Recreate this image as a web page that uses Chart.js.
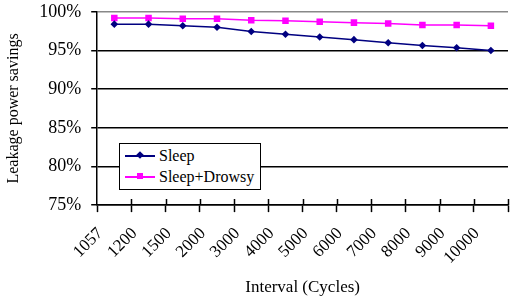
<!DOCTYPE html>
<html>
<head>
<meta charset="utf-8">
<script src="https://cdn.jsdelivr.net/npm/chart.js@4/dist/chart.umd.min.js"></script>
<style>
  html, body { margin: 0; padding: 0; background: #fff; overflow: hidden; }
  #wrap { position: relative; width: 517px; height: 304px; overflow: hidden; }
  #myChart { position: absolute; left: 0; top: -9px; }
  #legend {
    position: absolute; left: 119px; top: 143px; width: 140px; height: 45px;
    background: #fff; border: 1.5px solid #000;
    font-family: "Liberation Serif", serif; font-size: 16px; color: #000;
  }
  .item { position: absolute; left: 5px; height: 20px; }
  .item .ln { position: absolute; left: 0; top: 9px; width: 30px; height: 1.5px; }
  .item .mk { position: absolute; left: 12px; top: 6px; width: 6px; height: 6px; }
  .item span { position: absolute; left: 34px; top: 0; white-space: nowrap; line-height: 20px; }
</style>
</head>
<body>
<div id="wrap">
  <canvas id="myChart" width="517" height="313"></canvas>
  <div id="legend"></div>
</div>
<script>
'use strict'

//data
const intervals = ['1057', '1200', '1500', '2000', '3000', '4000', '5000', '6000', '7000', '8000', '9000', '10000'];
const sleepSavings = [98.4, 98.4, 98.2, 98.0, 97.45, 97.1, 96.75, 96.4, 96.0, 95.65, 95.35, 95.0];
const drowsySavings = [99.2, 99.2, 99.1, 99.1, 98.9, 98.85, 98.7, 98.6, 98.5, 98.3, 98.3, 98.2];
const seriesNames = ['Sleep', 'Sleep+Drowsy'];
const seriesColors = ['#000080', '#ff00ff'];
const yMin = 75;
const yMax = 100;
const yStep = 5;

const serif = 'Liberation Serif';

//legend in html, sits inside the plot
const legendBox = document.getElementById('legend');
for (let i = 0; i < seriesNames.length; i++) {
  let item = document.createElement('div');
  item.className = 'item';
  item.style.top = (2 + i * 21) + 'px';
  let ln = document.createElement('div');
  ln.className = 'ln';
  ln.style.background = seriesColors[i];
  let mk = document.createElement('div');
  mk.className = 'mk';
  mk.style.background = seriesColors[i];
  if (i === 0) {
    mk.style.transform = 'rotate(45deg) scale(0.9)';
  }
  let txt = document.createElement('span');
  txt.textContent = seriesNames[i];
  item.appendChild(ln);
  item.appendChild(mk);
  item.appendChild(txt);
  legendBox.appendChild(item);
}

// small tick marks poking up into the plot from the x axis
const innerTicks = {
  id: 'innerTicks',
  afterDatasetsDraw(chart) {
    const x = chart.scales.x;
    const ctx = chart.ctx;
    const step = x.width / intervals.length;
    ctx.save();
    ctx.strokeStyle = '#000';
    ctx.lineWidth = 1.5;
    ctx.beginPath();
    for (let i = 1; i <= intervals.length; i++) {
      let px = Math.round(x.left + i * step) + 0.5;
      ctx.moveTo(px, x.top);
      ctx.lineTo(px, x.top - 6);
    }
    ctx.stroke();
    ctx.restore();
  }
};

const data = {
  labels: intervals,
  datasets: [{
    label: seriesNames[0],
    data: sleepSavings,
    borderColor: seriesColors[0],
    backgroundColor: seriesColors[0],
    borderWidth: 1.5,
    pointStyle: 'rectRot',
    pointRadius: 3.8,
    pointBorderWidth: 0,
    tension: 0
  },
  {
    label: seriesNames[1],
    data: drowsySavings,
    borderColor: seriesColors[1],
    backgroundColor: seriesColors[1],
    borderWidth: 1.5,
    pointStyle: 'rect',
    pointRadius: 4.6,
    pointBorderWidth: 0,
    tension: 0
  }]
};

const config = {
  type: 'line',
  data: data,
  options: {
    responsive: false,
    animation: false,
    layout: {
      padding: { left: 4, right: 0, top: -4, bottom: 6 }
    },
    plugins: {
      legend: { display: false },
      tooltip: { enabled: false }
    },
    scales: {
      x: {
        offset: true,
        afterFit: function(scale) { scale.height -= 8; },
        grid: {
          offset: true,
          drawOnChartArea: false,
          drawTicks: true,
          tickLength: 7,
          tickWidth: 1.5,
          tickColor: '#000'
        },
        border: { color: '#000', width: 1.5 },
        ticks: {
          autoSkip: false,
          maxRotation: 45,
          minRotation: 45,
          labelOffset: -14,
          padding: 11.5,
          color: '#000',
          font: { family: serif, size: 17 }
        },
        title: {
          display: true,
          text: 'Interval (Cycles)',
          color: '#000',
          font: { family: serif, size: 17 },
          padding: { top: 6, bottom: 0 }
        }
      },
      y: {
        min: yMin,
        max: yMax,
        grid: {
          color: function(c) { return c.tick && c.tick.value === yMax ? '#888' : '#000'; },
          lineWidth: 1.5,
          tickLength: 6,
          tickColor: '#000',
          tickWidth: 1.5
        },
        border: { color: '#000', width: 1.5 },
        ticks: {
          stepSize: yStep,
          padding: 10,
          color: '#000',
          font: { family: serif, size: 18 },
          callback: function(v) { return v + '%'; }
        },
        title: {
          display: true,
          text: 'Leakage power savings',
          color: '#000',
          font: { family: serif, size: 16 },
          padding: { top: 0, bottom: 6 }
        }
      }
    }
  },
  plugins: [innerTicks]
};

let canvasChart = document.getElementById('myChart');
const myChart = new Chart(canvasChart, config);
</script>
</body>
</html>
